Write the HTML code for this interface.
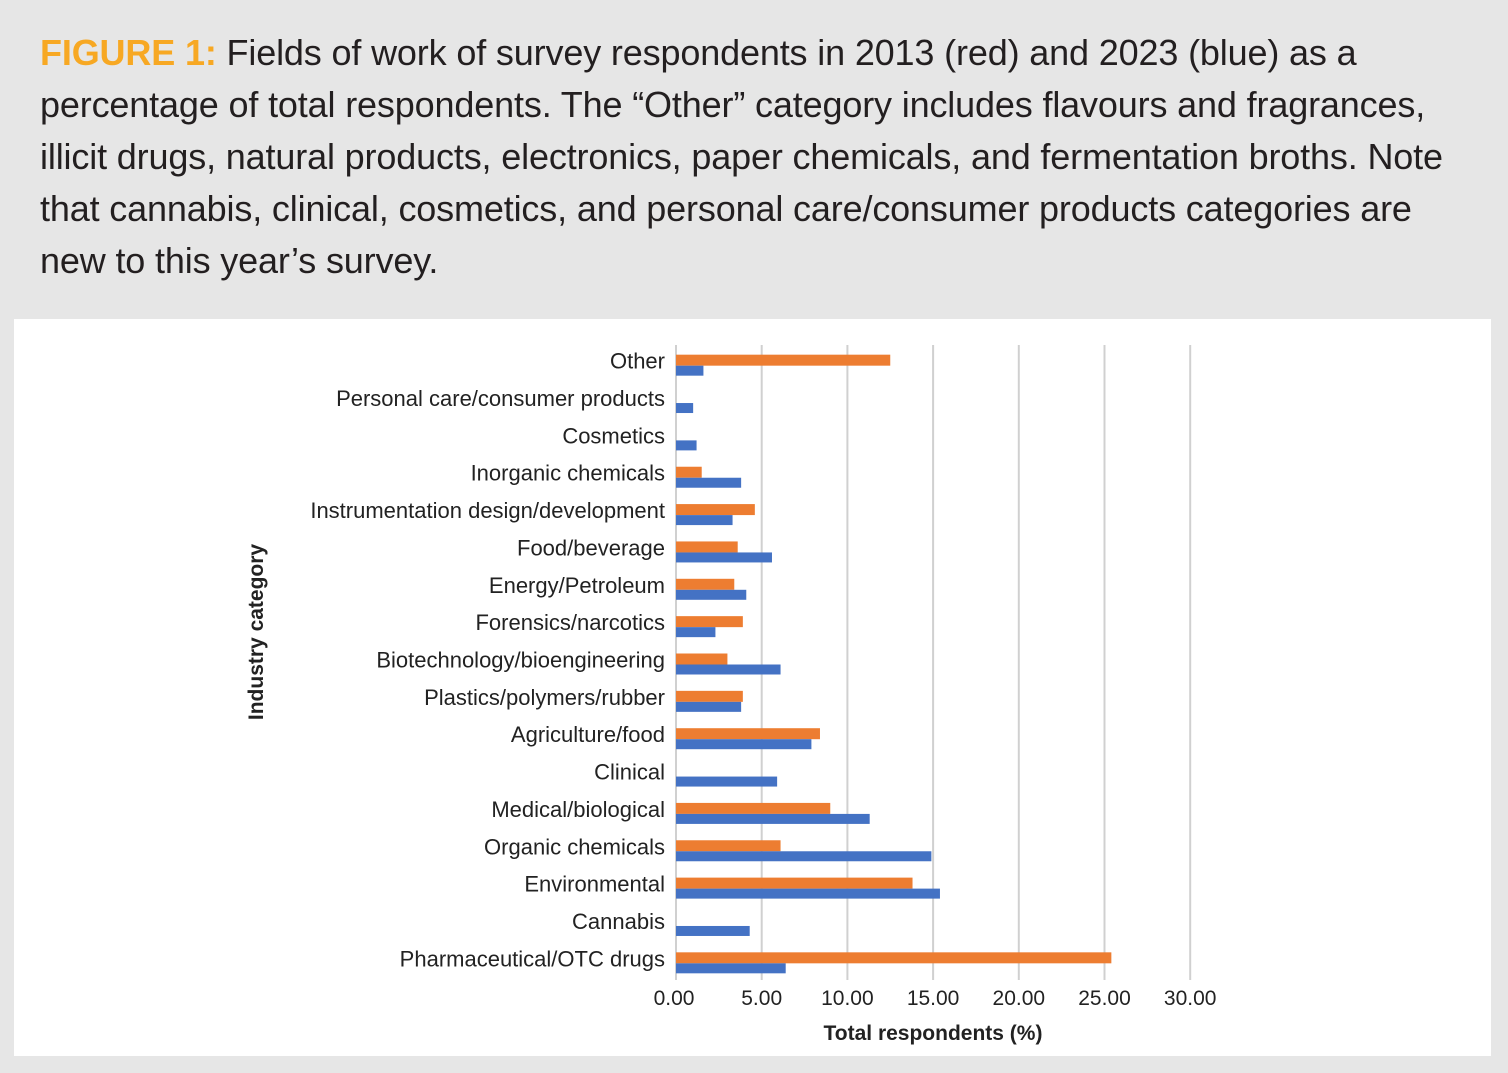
<!DOCTYPE html>
<html><head><meta charset="utf-8"><style>
body{margin:0;width:1508px;height:1073px;background:#e6e6e6;font-family:"Liberation Sans",Arial,sans-serif;overflow:hidden}
#cap{position:absolute;left:40px;top:27px;font-size:36px;line-height:52px;color:#231f20;letter-spacing:-0.15px;white-space:nowrap}
#cap b{color:#f7a823}
#panel{position:absolute;left:14px;top:319px;width:1477px;height:737px;background:#fff}
</style></head><body>
<div id="cap"><b>FIGURE 1:</b> Fields of work of survey respondents in 2013 (red) and 2023 (blue) as a<br>percentage of total respondents. The “Other” category includes flavours and fragrances,<br>illicit drugs, natural products, electronics, paper chemicals, and fermentation broths. Note<br>that cannabis, clinical, cosmetics, and personal care/consumer products categories are<br>new to this year’s survey.</div>
<div id="panel"></div>
<svg id="chart" width="1508" height="1073" style="position:absolute;left:0;top:0"></svg>
<script>
const categories=["Other","Personal care/consumer products","Cosmetics","Inorganic chemicals","Instrumentation design/development","Food/beverage","Energy/Petroleum","Forensics/narcotics","Biotechnology/bioengineering","Plastics/polymers/rubber","Agriculture/food","Clinical","Medical/biological","Organic chemicals","Environmental","Cannabis","Pharmaceutical/OTC drugs"];
const values2013=[12.5,null,null,1.5,4.6,3.6,3.4,3.9,3.0,3.9,8.4,null,9.0,6.1,13.8,null,25.4];
const values2023=[1.6,1.0,1.2,3.8,3.3,5.6,4.1,2.3,6.1,3.8,7.9,5.9,11.3,14.9,15.4,4.3,6.4];
const ticks=[0,5,10,15,20,25,30];
const tickLabels=["0.00","5.00","10.00","15.00","20.00","25.00","30.00"];
const NS="http://www.w3.org/2000/svg";
const svg=document.getElementById('chart');
const x=v=>676+v*17.14;
const y0=345,y1=980,band=(y1-y0)/categories.length;
const y=i=>y0+band*(i+0.5);
function mk(t,a,txt){const e=document.createElementNS(NS,t);for(const k in a)e.setAttribute(k,a[k]);if(txt!=null)e.textContent=txt;svg.appendChild(e);return e;}
ticks.forEach((t,i)=>{
 if(i>0){const g=mk('line',{x1:x(t),x2:x(t),y1:y0,y2:y1,stroke:'#d0d0d0','stroke-width':2});
 
 }
 const l=mk('text',{x:x(t)+(i==0?-2:0),y:1005,'text-anchor':'middle','font-size':21,fill:'#222','font-family':'Liberation Sans'},tickLabels[i]);
 
 
});
const ax=mk('line',{x1:x(0),x2:x(0),y1:y0,y2:y1,stroke:'#d0d0d0','stroke-width':2});


categories.forEach((c,i)=>{
 const l=mk('text',{x:665,y:y(i)+5,'text-anchor':'end','font-size':22,fill:'#222','font-family':'Liberation Sans'},c);
 
 
 if(values2013[i]!=null){const b=mk('rect',{x:x(0),y:y(i)-9,width:x(values2013[i])-x(0),height:11,fill:'#ed7d31'});
 
 }
 const b2=mk('rect',{x:x(0),y:y(i)+2,width:x(values2023[i])-x(0),height:10,fill:'#4472c4'});
 
 
});
const xt=mk('text',{x:933,y:1040,'text-anchor':'middle','font-size':21,'font-weight':'bold',fill:'#222','font-family':'Liberation Sans'},'Total respondents (%)');


const yt=mk('text',{x:0,y:0,transform:'translate(263,632) rotate(-90)','text-anchor':'middle','font-size':21,'font-weight':'bold',fill:'#222','font-family':'Liberation Sans'},'Industry category');


</script>
</body></html>
